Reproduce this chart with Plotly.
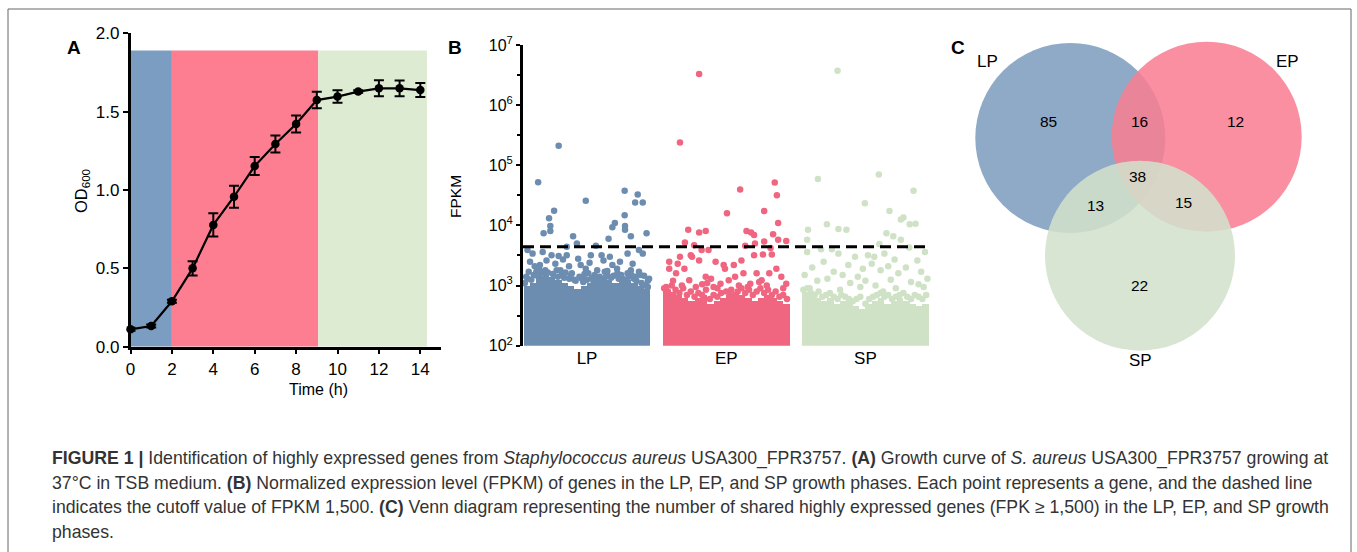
import plotly.graph_objects as go

W, H = 1357, 552
FONT = "Liberation Sans"

# ---------------- Panel A data ----------------
time_h = [0, 1, 2, 3, 4, 5, 6, 7, 8, 9, 10, 11, 12, 13, 14]
od600 = [0.111, 0.132, 0.29, 0.50, 0.777, 0.957, 1.153, 1.294, 1.421, 1.574, 1.596, 1.628, 1.649, 1.649, 1.638]
od600_err = [0.01, 0.01, 0.01, 0.045, 0.074, 0.07, 0.058, 0.054, 0.054, 0.053, 0.04, 0.008, 0.051, 0.05, 0.045]
phase_names = ["LP", "EP", "SP"]
phase_bounds = [0, 2, 9.07, 14.32]
phase_top = 1.89
phase_colors_a = ["#7B9DC1", "#FD7E90", "#DDEBD3"]

# ---------------- Panel B data ----------------
# gene position (0-100 along group) and FPKM of individually visible genes
lp_pos = [27.6, 11.4, 49, 79.7, 90, 88, 94, 24, 20, 79.7, 15.7, 21, 21, 70, 72, 80, 80, 84.6, 97, 39,
          67, 57, 34, 42, 3, 7, 15, 22, 27.6, 34, 43, 53, 61.5, 68, 82, 91, 94, 8.7, 12.8, 35.8,
          49, 73.7, 84.6, 91, 95, 2, 5, 10, 18, 25, 30, 38, 45, 52, 58, 63, 66, 76, 78, 86,
          88, 98, 46, 55, 60, 31, 17, 14, 40, 70, 82, 4, 9, 26, 33, 48, 64, 74, 92, 99,
          1, 3, 6, 8, 11, 13, 16, 19, 23, 27, 29, 32, 36, 41, 44, 47, 50, 54, 56, 59,
          62, 65, 69, 71, 75, 77, 81, 83, 87, 89, 93, 96, 98, 12, 37, 51, 66, 85]
lp_fpkm = [211000, 52000, 25700, 37700, 32700, 24000, 24000, 17500, 13100, 14800, 7400, 9800, 8100, 9300, 11000, 9800, 8500, 6600, 7400, 6600,
           6000, 4600, 4400, 5000, 3900, 3400, 3600, 3200, 3100, 3200, 2800, 3200, 3200, 3000, 3400, 3900, 3400, 2100, 2200, 2100,
           1900, 1900, 1800, 1700, 1450, 1400, 2500, 1700, 2600, 2300, 1500, 1600, 2200, 2400, 1800, 2600, 1500, 2500, 1300, 2300,
           1400, 1200, 1300, 1200, 1400, 2700, 1800, 1300, 1250, 2200, 1600, 1700, 1500, 1800, 1650, 1550, 1700, 1600, 1500, 1300,
           1100, 1300, 1250, 1500, 1450, 1600, 1700, 1650, 1550, 1400, 1800, 1350, 1300, 1200, 1400, 1150, 1250, 1350, 1500, 1300,
           1250, 1400, 1350, 1450, 1300, 1500, 1250, 1400, 1300, 1200, 1100, 1000, 950, 1900, 1450, 1600, 1750, 1500]
ep_pos = [28.6, 13.5, 61, 88.3, 90, 50.6, 80, 91, 20, 28.6, 33.8, 66, 69.6, 72, 87, 17.4, 24.7, 72.7, 80, 91,
          97.4, 30.6, 36, 65, 85, 13.5, 22, 23, 28.6, 72, 79, 86, 5, 11.7, 41.6, 48, 56, 62, 89.6, 5,
          10.4, 20.8, 26, 33.8, 40, 45.5, 52, 57, 63.6, 69, 74, 78, 84, 93.5, 97.4, 2.6, 17, 49, 8, 15,
          35, 43, 60, 67, 76, 82, 95, 31, 54, 38,
          1, 4, 7, 10, 13, 16, 19, 22, 25, 28, 31, 34, 37, 40, 43, 46, 50, 53, 56, 59,
          62, 65, 68, 71, 74, 77, 80, 83, 86, 89, 92, 95, 98]
ep_fpkm = [3290000, 240000, 39600, 51900, 31700, 15900, 17300, 11000, 8500, 7600, 8100, 8100, 7600, 6900, 7100, 5200, 4700, 5000, 5400, 5800,
           5500, 3900, 3900, 4600, 4200, 3000, 3200, 3000, 2600, 3200, 3300, 3300, 2500, 2300, 2500, 2200, 2200, 2600, 1900, 1900,
           1600, 1230, 950, 1400, 950, 1070, 1230, 1400, 1600, 1070, 1600, 1230, 1600, 1400, 1070, 950, 1900, 1900, 1200, 1000,
           1100, 900, 1000, 950, 1150, 1000, 900, 1050, 850, 1300,
           900, 800, 1000, 850, 750, 900, 700, 800, 650, 750, 700, 850, 600, 700, 650, 750, 800, 700, 650, 800,
           900, 750, 850, 700, 800, 900, 750, 850, 700, 800, 650, 700, 600]
sp_pos = [28, 12.5, 60.6, 88, 49.6, 69, 78, 80, 85, 89.6, 19.6, 4.7, 28.7, 35, 66.6, 72, 4, 78, 61, 84.6,
          15, 23.5, 4, 97, 28.7, 41.8, 52, 57, 65, 73, 91, 17, 36.5, 48, 8, 25, 32, 44, 55, 62,
          68, 76, 82, 94, 99, 2, 12, 20, 38, 50, 58, 70, 86, 92, 6, 30, 46, 64, 74, 96,
          1, 4, 7, 10, 13, 16, 19, 22, 25, 28, 31, 34, 37, 40, 43, 46, 50, 53, 56, 59,
          62, 65, 68, 71, 74, 77, 80, 83, 86, 89, 92, 95, 98]
sp_fpkm = [3740000, 59000, 70500, 37800, 23400, 17300, 12600, 13500, 10500, 10700, 10500, 8500, 8700, 8500, 7400, 6600, 5800, 5800, 4900, 4300,
           4000, 4000, 3600, 3600, 3400, 3000, 3200, 3000, 3400, 2700, 2600, 2500, 2200, 1900, 2000, 1700, 1500, 1400, 2300, 1800,
           2100, 1600, 2000, 1700, 1300, 1500, 1200, 1300, 1100, 1200, 1000, 1250, 1150, 1050, 900, 850, 950, 800, 900, 950,
           850, 900, 750, 700, 800, 650, 700, 750, 650, 600, 700, 650, 600, 550, 600, 650, 500, 600, 650, 700,
           750, 650, 700, 600, 650, 700, 750, 650, 600, 700, 650, 600, 700]
# upper edge of the dense (overlapping) mass of genes, 20 bins per group
lp_bulk = [1000, 1120, 1410, 1580, 1410, 1260, 1120, 1000, 890, 1000, 1120, 1260, 1410, 1260, 1120, 1260, 1260, 1120, 1000, 890]
ep_bulk = [890, 790, 710, 630, 560, 630, 710, 500, 560, 630, 710, 790, 710, 630, 560, 630, 710, 630, 560, 500]
sp_bulk = [790, 710, 630, 560, 630, 500, 560, 630, 450, 400, 500, 560, 630, 500, 560, 630, 560, 500, 450, 500]
fpkm_cutoff = 4400
point_colors = ["#6C8DB0", "#F06580", "#CFE2C6"]

# ---------------- Panel C data ----------------
venn_sets = ["LP", "EP", "SP"]
venn_counts = {"LP": 85, "EP": 12, "SP": 22, "LP&EP": 16, "LP&SP": 13, "EP&SP": 15, "LP&EP&SP": 38}

caption_lines = [
    "<b>FIGURE 1 |</b> Identification of highly expressed genes from <i>Staphylococcus aureus</i> USA300_FPR3757. "
    "<b>(A)</b> Growth curve of <i>S. aureus</i> USA300_FPR3757 growing at",
    "37°C in TSB medium. <b>(B)</b> Normalized expression level (FPKM) of genes in the LP, EP, and SP growth phases. "
    "Each point represents a gene, and the dashed line",
    "indicates the cutoff value of FPKM 1,500. <b>(C)</b> Venn diagram representing the number of shared highly "
    "expressed genes (FPK ≥ 1,500) in the LP, EP, and SP growth",
    "phases.",
]


def px(x):
    return x / W


def py(y):
    return 1 - y / H


fig = go.Figure()

# ---- Panel A ----
shapes = []
for i in range(3):
    shapes.append(dict(type="rect", xref="x", yref="y", x0=phase_bounds[i], x1=phase_bounds[i + 1],
                       y0=0, y1=phase_top, fillcolor=phase_colors_a[i], line=dict(width=0), layer="below"))
fig.add_trace(go.Scatter(
    x=time_h, y=od600, mode="lines+markers", xaxis="x", yaxis="y",
    line=dict(color="black", width=2.2), marker=dict(color="black", size=8.5),
    error_y=dict(type="data", array=od600_err, thickness=2, width=5, color="black"),
    cliponaxis=False, showlegend=False, hoverinfo="skip"))

# ---- Panel B ----
SPREAD = 0.91
groups = [(lp_pos, lp_fpkm, lp_bulk), (ep_pos, ep_fpkm, ep_bulk), (sp_pos, sp_fpkm, sp_bulk)]
for g, (pos, vals, bulk) in enumerate(groups):
    n = len(bulk)
    bw = 100 / n
    bx = [g + ((i + 0.5) * bw - 50) / 100 * SPREAD for i in range(n)]
    fig.add_trace(go.Bar(
        x=bx, y=[v - 100 for v in bulk], base=100, width=bw / 100 * SPREAD,
        marker=dict(color=point_colors[g], line=dict(width=0)),
        xaxis="x2", yaxis="y2", showlegend=False, hoverinfo="skip"))
    fig.add_trace(go.Scatter(
        x=[g + (p - 50) / 100 * SPREAD for p in pos], y=vals, mode="markers",
        marker=dict(color=point_colors[g], size=6.5, line=dict(width=0)),
        xaxis="x2", yaxis="y2", showlegend=False, hoverinfo="skip"))
shapes.append(dict(type="line", xref="x2", yref="y2", x0=-0.46, x1=2.46, y0=fpkm_cutoff, y1=fpkm_cutoff,
                   line=dict(color="black", width=3, dash="11px,6px"), layer="above"))

# ---- Panel C (Venn, pixel-like coordinates) ----
circle_geom = {"LP": (1070.3, 138.0), "EP": (1206.7, 136.7), "SP": (1140.0, 255.7)}
R = 95
venn_fill = {"LP": "rgba(125,157,190,0.87)", "EP": "rgba(248,126,146,0.87)", "SP": "rgba(210,225,203,0.87)"}
for s in venn_sets:
    cx, cy = circle_geom[s]
    shapes.append(dict(type="circle", xref="x3", yref="y3", x0=cx - R, x1=cx + R, y0=cy - R, y1=cy + R,
                       fillcolor=venn_fill[s], line=dict(width=0), layer="below"))
label_pos = {"LP": (987, 61.7), "EP": (1287, 61.7), "SP": (1140, 360)}
count_pos = {"LP": (1048.3, 121.7), "EP": (1235, 121.7), "SP": (1139, 285), "LP&EP": (1139, 121.7),
             "LP&SP": (1095.7, 205), "EP&SP": (1183.3, 202.7), "LP&EP&SP": (1137.3, 176.7)}
annotations = []
for s in venn_sets:
    x, y = label_pos[s]
    annotations.append(dict(x=x, y=y, xref="x3", yref="y3", text=s, showarrow=False,
                            font=dict(size=17, color="black", family=FONT)))
for k, v in venn_counts.items():
    x, y = count_pos[k]
    annotations.append(dict(x=x, y=y, xref="x3", yref="y3", text=str(v), showarrow=False,
                            font=dict(size=15.5, color="black", family=FONT)))

# panel letters & axis titles
for letter, x in [("A", 65), ("B", 455), ("C", 967)]:
    annotations.append(dict(x=px(x), y=py(35), xref="paper", yref="paper", text="<b>%s</b>" % letter,
                            showarrow=False, font=dict(size=19, color="black", family=FONT)))
annotations.append(dict(x=px(70), y=py(191), xref="paper", yref="paper", text="OD<sub>600</sub>", textangle=-90,
                        showarrow=False, font=dict(size=16.5, color="black", family=FONT)))
annotations.append(dict(x=px(287), y=py(400), xref="paper", yref="paper", text="Time (h)",
                        showarrow=False, font=dict(size=16, color="black", family=FONT)))
annotations.append(dict(x=px(456), y=py(197), xref="paper", yref="paper", text="FPKM", textangle=-90,
                        showarrow=False, font=dict(size=15.5, color="black", family=FONT)))

# caption
for i, line in enumerate(caption_lines):
    annotations.append(dict(x=px(50), y=py(458 + 24.7 * i), xref="paper", yref="paper", text=line,
                            xanchor="left", yanchor="middle", showarrow=False, align="left",
                            font=dict(size=17.7, color="#333333", family=FONT)))

# border frame
shapes.append(dict(type="rect", xref="paper", yref="paper", x0=px(8), x1=px(1351), y0=-0.05, y1=py(9),
                   line=dict(color="#666666", width=1), fillcolor="rgba(0,0,0,0)"))

tickfont = dict(size=17, color="black", family=FONT)
fig.update_layout(
    width=W, height=H, autosize=False,
    margin=dict(l=0, r=0, t=0, b=0, pad=0, autoexpand=False),
    paper_bgcolor="white", plot_bgcolor="rgba(0,0,0,0)",
    font=dict(family=FONT, color="black"),
    bargap=0, barmode="overlay",
    shapes=shapes, annotations=annotations,
    xaxis=dict(domain=[px(130.5), px(441)], range=[0, 15], anchor="y", showline=True, linewidth=2.5,
               linecolor="black", ticks="outside", ticklen=5, tickwidth=2, tickcolor="black", automargin=False,
               tickvals=list(range(0, 15, 2)), tickfont=tickfont, showgrid=False, zeroline=False),
    yaxis=dict(domain=[py(346.7), py(33.3)], range=[0, 2], anchor="x", showline=True, linewidth=2.5,
               linecolor="black", ticks="outside", ticklen=5, tickwidth=2, tickcolor="black", automargin=False,
               tickvals=[0, 0.5, 1.0, 1.5, 2.0], ticktext=["0.0", "0.5", "1.0", "1.5", "2.0"],
               tickfont=tickfont, showgrid=False, zeroline=False),
    xaxis2=dict(domain=[px(523), px(935)], range=[-0.46, 2.5], anchor="y2", showline=False, ticks="",
                automargin=False,
                tickvals=[0, 1, 2], ticktext=phase_names, tickfont=tickfont, showgrid=False, zeroline=False),
    yaxis2=dict(domain=[py(345.7), py(45)], type="log", range=[2, 7], anchor="x2", showline=True,
                linewidth=3, linecolor="black", ticks="outside", ticklen=4, tickwidth=2, tickcolor="black",
                automargin=False,
                tickvals=[10 ** k for k in range(2, 8)],
                ticktext=["10<sup>%d</sup>" % k for k in range(2, 8)],
                minor=dict(tickvals=[10 ** (k + 0.5) for k in range(2, 7)], ticks="outside", ticklen=3,
                           tickwidth=2, tickcolor="black", showgrid=False),
                tickfont=dict(size=16, color="black", family=FONT), showgrid=False, zeroline=False),
    xaxis3=dict(domain=[px(950), px(1340)], range=[950, 1340], anchor="y3", visible=False),
    yaxis3=dict(domain=[py(380), py(20)], range=[380, 20], anchor="x3", visible=False),
)

fig.write_html("out.html", config={"responsive": False, "displayModeBar": False},
               post_script="document.body.style.margin='0px';document.body.style.overflow='hidden';")
